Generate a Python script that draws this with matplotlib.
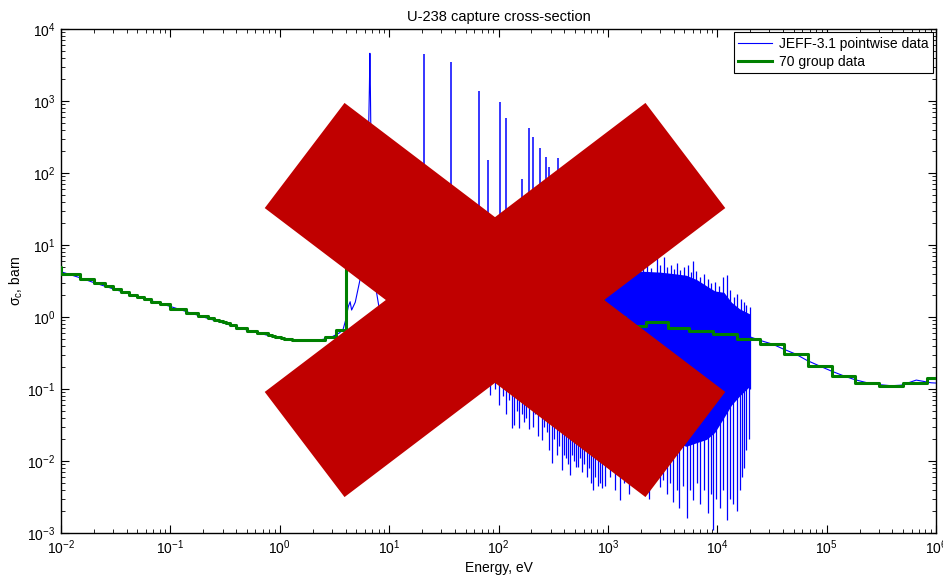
import numpy as np
import matplotlib
matplotlib.use('Agg')
import matplotlib.pyplot as plt
from matplotlib.patches import Polygon
from matplotlib.ticker import LogLocator, NullFormatter

plt.rcParams['font.family'] = ['Liberation Sans', 'DejaVu Sans']
plt.rcParams['mathtext.fontset'] = 'custom'
plt.rcParams['mathtext.rm'] = 'Liberation Sans'
plt.rcParams['mathtext.it'] = 'Liberation Sans:italic'

## 70 group data: group edges (eV) and group capture values (barn)
grp_edges = [0.005, 0.01, 0.015, 0.02, 0.025, 0.03, 0.035, 0.042, 0.05, 0.058,
             0.067, 0.08, 0.1, 0.14, 0.18, 0.22, 0.25, 0.28, 0.3, 0.32,
             0.35, 0.4, 0.5, 0.625, 0.78, 0.85, 0.91, 0.95, 0.972, 0.996,
             1.02, 1.045, 1.071, 1.097, 1.123, 1.15, 1.3, 1.5, 2.1, 2.6,
             3.3, 4.0, 9.877, 15.968, 27.7, 48.052, 75.501, 148.73, 367.26, 906.9,
             1425.1, 2239.4, 3519.1, 5530, 9118, 15030, 24780, 40850, 67340, 111000,
             183000, 302500, 500000, 821000, 1353000]
grp_xs = [5.0, 3.92, 3.34, 2.94, 2.69, 2.45, 2.24, 2.05, 1.89, 1.76,
          1.64, 1.50, 1.31, 1.15, 1.04, 0.96, 0.91, 0.88, 0.86, 0.83,
          0.78, 0.71, 0.645, 0.59, 0.56, 0.545, 0.535, 0.53, 0.525, 0.52,
          0.515, 0.51, 0.505, 0.50, 0.497, 0.49, 0.48, 0.472, 0.485, 0.53,
          0.65, 150, 2.5, 80, 40, 25, 12, 8, 3.5, 1.0,
          0.76, 0.85, 0.71, 0.64, 0.575, 0.49, 0.42, 0.306, 0.209, 0.153,
          0.122, 0.111, 0.12, 0.144]

## pointwise data, thermal + first resonance
lo_E = [0.008, 0.01, 0.015, 0.02, 0.03, 0.05, 0.08, 0.1, 0.15, 0.2,
        0.3, 0.5, 0.8, 1.0, 1.5, 2.0, 2.5, 3.0, 3.5, 3.78,
        4.0, 4.23, 4.4, 4.54, 4.9, 5.41, 5.8, 6.1, 6.4, 6.6,
        6.67, 6.74, 6.85, 7.0, 7.2, 7.69, 8.0, 9.0, 10.0]
lo_xs = [4.8, 4.25, 3.5, 3.0, 2.46, 1.92, 1.55, 1.40, 1.15, 1.0,
         0.83, 0.66, 0.55, 0.51, 0.47, 0.465, 0.49, 0.53, 0.6, 0.66,
         0.9, 1.39, 1.63, 1.25, 1.6, 3.26, 5.0, 15, 120, 1500,
         4600, 1500, 150, 30, 8, 2.15, 1.5, 0.6, 0.4]

## pointwise data, fast range
hi_E = [19900, 25000, 32000, 40000, 52000, 66000, 86000, 110000, 142000, 180000,
        235000, 300000, 390000, 480000, 560000, 660000, 760000, 900000, 1100000, 1400000]
hi_xs = [0.53, 0.47, 0.42, 0.36, 0.306, 0.25, 0.209, 0.178, 0.153, 0.135,
         0.122, 0.115, 0.111, 0.113, 0.122, 0.133, 0.128, 0.122, 0.12, 0.12]

## resolved resonances: energy (eV) and peak value (barn)
res_E = [10.24, 20.9, 36.7, 66.0, 80.7, 102.5, 116.9, 145.7, 165.3, 189.7,
         208.5, 237.4, 273.7, 291.0, 311.3, 347.8, 376.9, 397.6, 410.3, 434.0,
         463.0, 478.3, 518.4, 535.3, 580.2, 595.1, 619.9, 661.2, 693.1, 708.4,
         721.6, 730.1, 780.7, 821.5, 851.0, 866.5, 905.0]
res_peak = [25, 4500, 3500, 1380, 150, 970, 580, 30, 83, 420,
            316, 222, 166, 121, 60, 160, 80, 100, 110, 60,
            90, 70, 80, 100, 60, 90, 70, 100, 60, 80,
            90, 70, 50, 70, 40, 60, 50]

## minima between resonances (eV, barn)
dip_E = [83, 92, 100, 110, 118, 126, 132, 140, 148, 155,
         163, 172, 180, 192, 205, 215, 228, 248, 262, 275,
         290, 306, 322, 340, 358, 377, 395, 410, 430, 450,
         470, 490, 512, 535, 560, 585, 610, 640, 670, 700,
         735, 770, 810, 850, 880,
         950, 1050, 1150, 1290, 1400, 1550, 1700, 1850, 2000, 2200,
         2400, 2650, 2990, 3200, 3450, 3700, 3950, 4250, 4500, 4850,
         5240, 5600, 6030, 6500, 7000, 7500, 8260, 8700, 9190, 9800,
         10500, 11300, 12200, 13000, 14000, 15000, 16000, 16800, 17600, 18500,
         19400]
dip_xs = [0.083, 0.1, 0.06, 0.08, 0.045, 0.07, 0.029, 0.032, 0.05, 0.029,
          0.045, 0.035, 0.04, 0.028, 0.03, 0.045, 0.022, 0.0196, 0.03, 0.025,
          0.014, 0.0093, 0.02, 0.012, 0.016, 0.0075, 0.012, 0.011, 0.009, 0.0064,
          0.012, 0.01, 0.0083, 0.0083, 0.011, 0.007, 0.009, 0.006, 0.008, 0.005,
          0.0039, 0.006, 0.0045, 0.005, 0.0042,
          0.0045, 0.006, 0.004, 0.0029, 0.005, 0.0035, 0.006, 0.0042, 0.004, 0.005,
          0.003, 0.006, 0.0044, 0.0055, 0.0035, 0.005, 0.0027, 0.004, 0.0022, 0.0045,
          0.0016, 0.004, 0.0029, 0.005, 0.0025, 0.004, 0.0019, 0.0035, 0.0011, 0.003,
          0.0022, 0.004, 0.0015, 0.003, 0.0025, 0.002, 0.004, 0.006, 0.008, 0.014,
          0.02]

## dense resonance band 0.9 - 20 keV: peaks and core envelope
top_E = [920, 980, 1060, 1130, 1220, 1330, 1450, 1600, 1750, 1900,
         2100, 2300, 2500, 2790, 3000, 3260, 3500, 3800, 4050, 4260,
         4600, 5000, 5400, 5700, 6030, 6400, 7000, 7500, 8150, 8800,
         9620, 10300, 11200, 12200, 13000, 14200, 15300, 16500, 17500, 18500,
         19900]
top_xs = [5.5, 6.8, 5.0, 6.2, 5.4, 6.6, 5.2, 6.0, 5.0, 6.4,
          5.5, 6.0, 4.8, 6.5, 5.2, 6.9, 4.9, 5.3, 4.6, 5.6,
          4.5, 4.9, 5.3, 4.2, 5.9, 4.3, 3.6, 3.9, 3.4, 3.0,
          3.1, 2.7, 3.6, 3.8, 2.4, 1.9, 2.1, 1.8, 1.6, 1.47,
          1.39]
band_E = [900, 1200, 1600, 2200, 3000, 4000, 5200, 6500, 8000, 9500, 11500, 13500, 16000, 19900]
band_top = [4.2, 4.5, 4.4, 4.3, 4.2, 4.0, 3.8, 3.3, 2.7, 2.3, 2.2, 1.6, 1.3, 1.1]
band_bot = [0.05, 0.04, 0.03, 0.025, 0.02, 0.018, 0.016, 0.018, 0.02, 0.025, 0.04, 0.06, 0.08, 0.11]

fig = plt.figure(figsize=(9.43, 5.76), dpi=100)
ax = fig.add_axes([61/943, 43/576, 875/943, 504/576])

blue = '#0000FF'
ax.fill_between(band_E, band_bot, band_top, color=blue, linewidth=0, zorder=2)
ax.vlines(top_E, 0.1, top_xs, color=blue, linewidth=0.9, zorder=2)
ax.vlines(dip_E, dip_xs, 0.5, color=blue, linewidth=0.9, zorder=2)
ax.vlines(res_E, 1.0, res_peak, color=blue, linewidth=1.1, zorder=2)
l1, = ax.plot(lo_E, lo_xs, color=blue, linewidth=0.8, zorder=2)
ax.plot(hi_E, hi_xs, color=blue, linewidth=0.8, zorder=2)
l2, = ax.step(grp_edges, grp_xs + [grp_xs[-1]], where='post', color='#008000',
              linewidth=2.2, zorder=3)

ax.set_xscale('log')
ax.set_yscale('log')
ax.set_xlim(1e-2, 1e6)
ax.set_ylim(1e-3, 1e4)
for axis in (ax.xaxis, ax.yaxis):
    axis.set_major_locator(LogLocator(base=10, numticks=30))
    axis.set_minor_locator(LogLocator(base=10, subs=np.arange(2, 10), numticks=100))
    axis.set_minor_formatter(NullFormatter())
ax.tick_params(which='both', direction='in', top=True, right=True, labelsize=10)
ax.tick_params(which='major', length=6, width=0.8, pad=4)
ax.tick_params(which='minor', length=3, width=0.6)
for s in ax.spines.values():
    s.set_linewidth(1.0)

ax.set_title('U-238 capture cross-section', fontsize=10.5, pad=6)
ax.set_xlabel('Energy, eV', fontsize=10, labelpad=3)
ax.set_ylabel('σ$_\\mathregular{c}$, barn', fontsize=10, labelpad=2)

leg = ax.legend([l1, l2], ['JEFF-3.1 pointwise data', '70 group data'],
                loc='upper right', fontsize=10, fancybox=False, framealpha=1,
                edgecolor='black', borderaxespad=0.25, handlelength=2.4,
                borderpad=0.3, labelspacing=0.3, handletextpad=0.5)
leg.get_frame().set_linewidth(0.8)

## the big red cross drawn over the whole figure (pixel geometry, y from top)
cross_center = (495, 300)
cross_len, cross_wid, cross_ang = 478, 132, 37.2
for sgn in (1, -1):
    a = np.radians(cross_ang) * sgn
    u = np.array([np.cos(a), np.sin(a)])
    n = np.array([-np.sin(a), np.cos(a)])
    c = np.array(cross_center, dtype=float)
    pts = [c + h * u * cross_len / 2 + w * n * cross_wid / 2
           for h, w in ((-1, -1), (1, -1), (1, 1), (-1, 1))]
    pts = [(px / 943, 1 - py / 576) for px, py in pts]
    fig.add_artist(Polygon(pts, closed=True, facecolor='#C00000', edgecolor='none',
                           transform=fig.transFigure, zorder=10))

fig.savefig('out.png', dpi=100)
